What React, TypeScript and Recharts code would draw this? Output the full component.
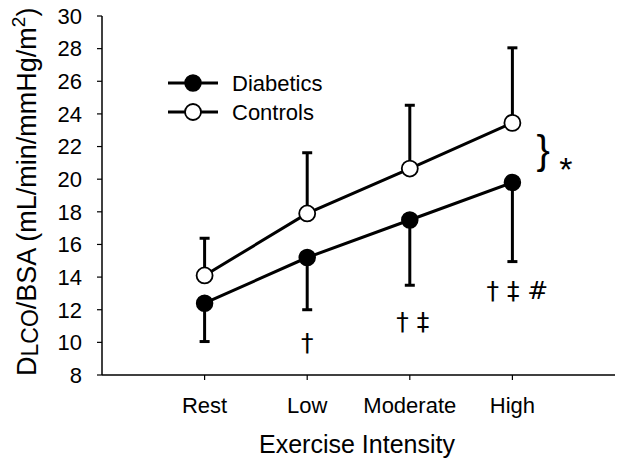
import React from 'react';
import { LineChart, Line, XAxis, YAxis, ErrorBar, ReferenceDot } from 'recharts';

const categories = ['Rest', 'Low', 'Moderate', 'High'];
const diabetics = [12.4, 15.2, 17.5, 19.8];
const diabeticsSD = [2.35, 3.2, 4.0, 4.85];
const controls = [14.1, 17.9, 20.65, 23.45];
const controlsSD = [2.28, 3.72, 3.88, 4.6];
const yTicks = [8, 10, 12, 14, 16, 18, 20, 22, 24, 26, 28, 30];

// significance annotations (category position, value, text)
const annotPos = [2, 3, 4];
const annotValue = [10.05, 11.3, 13.2];
const annotText = ['†', '† ‡', '† ‡ #'];

const FONT = '"Liberation Sans", Arial, Helvetica, sans-serif';
const SYMFONT = '"DejaVu Sans", "Liberation Sans", sans-serif';

const data = categories.map((c, i) => ({
  x: i + 1,
  name: c,
  diabetics: diabetics[i],
  dErr: [diabeticsSD[i], 0],
  controls: controls[i],
  cErr: [0, controlsSD[i]],
}));

const makeLabel = (text: string, fontSize: number, dy: number, dx = 0, family = SYMFONT, weight: any = 'normal') => (props: any) => {
  const vb = props.viewBox || {};
  return (
    <text
      x={vb.x + dx}
      y={vb.y + dy}
      textAnchor="middle"
      fontSize={fontSize}
      fontFamily={family}
      fontWeight={weight}
      fill="#000"
    >
      {text}
    </text>
  );
};

export default function App() {
  return (
    <div style={{ position: 'absolute', left: 0, top: 0, background: '#fff' }}>
      <LineChart
        width={624}
        height={468}
        data={data}
        margin={{ top: 16, right: 9, bottom: 33, left: 0 }}
      >
        <XAxis
          type="number"
          dataKey="x"
          domain={[0, 5]}
          ticks={[1, 2, 3, 4]}
          tickFormatter={(v: number) => categories[v - 1] ?? ''}
          height={60}
          axisLine={{ stroke: '#000', strokeWidth: 1.5 }}
          tickLine={{ stroke: '#000', strokeWidth: 1.2 }}
          tickSize={5}
          tickMargin={17}
          tick={{ fill: '#000', fontSize: 22, fontFamily: FONT }}
        />
        <YAxis
          type="number"
          domain={[8, 30]}
          ticks={yTicks}
          width={102}
          interval={0}
          axisLine={{ stroke: '#000', strokeWidth: 1.5 }}
          tickLine={{ stroke: '#000', strokeWidth: 1.2 }}
          tickSize={5}
          tickMargin={15}
          tick={{ fill: '#000', fontSize: 22, fontFamily: FONT }}
        />
        <Line
          dataKey="diabetics"
          stroke="#000"
          strokeWidth={3}
          isAnimationActive={false}
          dot={{ r: 8, fill: '#000', stroke: '#000', strokeWidth: 1.5 }}
          activeDot={false}
        >
          <ErrorBar dataKey="dErr" width={5} stroke="#000" strokeWidth={3} direction="y" />
        </Line>
        <Line
          dataKey="controls"
          stroke="#000"
          strokeWidth={3}
          isAnimationActive={false}
          dot={{ r: 8, fill: '#fff', stroke: '#000', strokeWidth: 1.8 }}
          activeDot={false}
        >
          <ErrorBar dataKey="cErr" width={5} stroke="#000" strokeWidth={3} direction="y" />
        </Line>
        {annotPos.map((p, i) => (
          <ReferenceDot
            key={i}
            x={p}
            y={annotValue[i]}
            r={0}
            fill="none"
            stroke="none"
            label={{ content: makeLabel(annotText[i], 25, 9, i === 1 ? 3 : i === 2 ? 5 : 0) }}
          />
        ))}
        <ReferenceDot x={4.3} y={21.6} r={0} fill="none" stroke="none" label={{ content: makeLabel('}', 40, 11, 0, FONT) }} />
        <ReferenceDot x={4.52} y={21.1} r={0} fill="none" stroke="none" label={{ content: makeLabel('*', 34, 20, 0, FONT) }} />

        {/* legend */}
        <g>
          <line x1={168} y1={83} x2={218} y2={83} stroke="#000" strokeWidth={3} />
          <circle cx={193} cy={83} r={8} fill="#000" stroke="#000" strokeWidth={1.5} />
          <text x={232} y={91} fontSize={22} fontFamily={FONT} fill="#000">Diabetics</text>
          <line x1={168} y1={112} x2={218} y2={112} stroke="#000" strokeWidth={3} />
          <circle cx={193} cy={112} r={8} fill="#fff" stroke="#000" strokeWidth={1.8} />
          <text x={232} y={120} fontSize={22} fontFamily={FONT} fill="#000">Controls</text>
        </g>

        {/* axis titles */}
        <text x={357} y={453} textAnchor="middle" fontSize={25} fontFamily={FONT} fill="#000">
          Exercise Intensity
        </text>
        <text
          transform="translate(36,376) rotate(-90)"
          x={0}
          y={0}
          fontSize={27}
          fontFamily={FONT}
          fill="#000"
        >
          D
          <tspan fontSize={23} dy={2}>LCO</tspan>
          <tspan dy={-2}>/BSA (mL/min/mmHg/m</tspan>
          <tspan fontSize={19} dy={-11}>2</tspan>
          <tspan dy={11}>)</tspan>
        </text>
      </LineChart>
    </div>
  );
}
